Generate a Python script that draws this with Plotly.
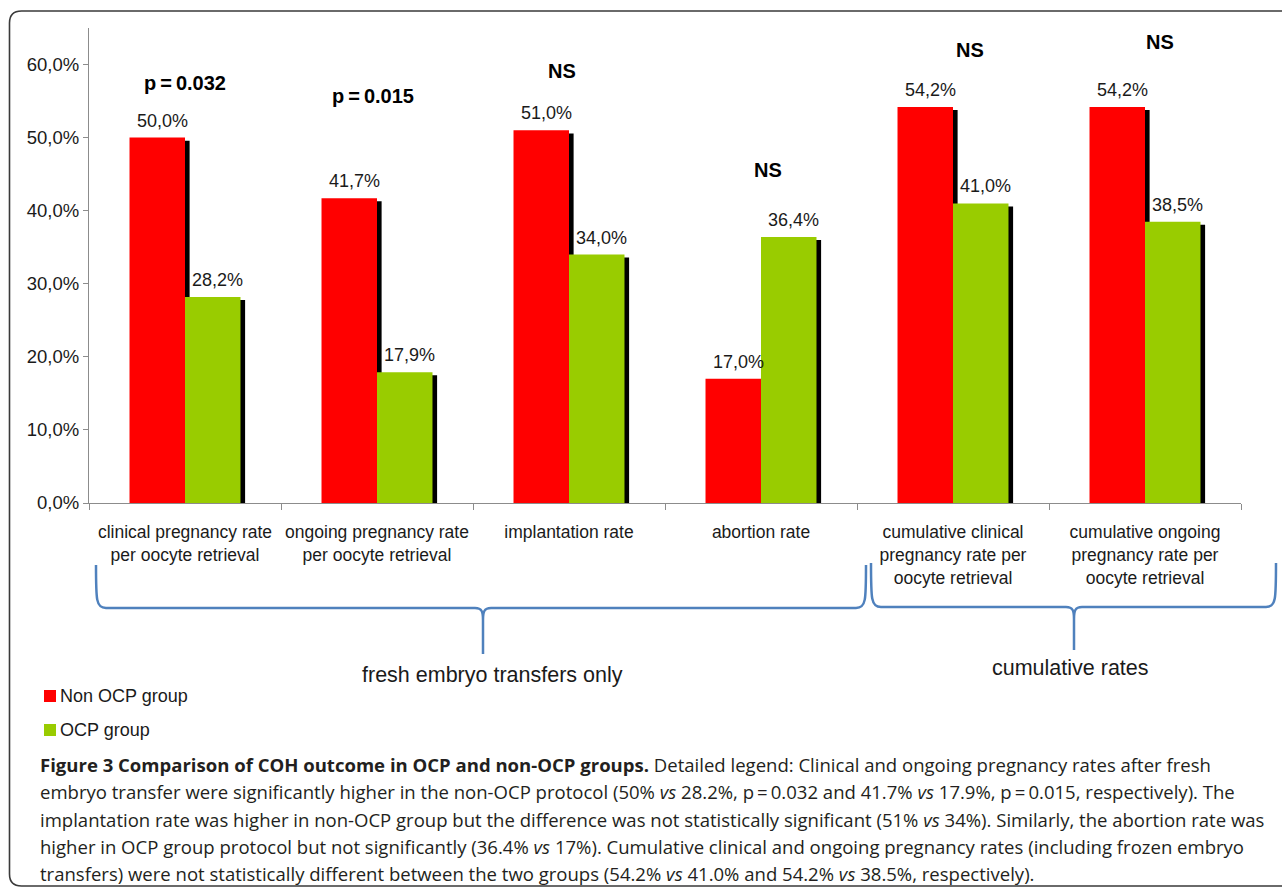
import plotly.graph_objects as go

# --- data -------------------------------------------------------------
categories = [
    "clinical pregnancy rate<br>per oocyte retrieval",
    "ongoing pregnancy rate<br>per oocyte retrieval",
    "implantation rate",
    "abortion rate",
    "cumulative clinical<br>pregnancy rate per<br>oocyte retrieval",
    "cumulative ongoing<br>pregnancy rate per<br>oocyte retrieval",
]
non_ocp = [50.0, 41.7, 51.0, 17.0, 54.2, 54.2]
ocp = [28.2, 17.9, 34.0, 36.4, 41.0, 38.5]
significance = ["p\u2009=\u20090.032", "p\u2009=\u20090.015", "NS", "NS", "NS", "NS"]
series_names = ["Non OCP group", "OCP group"]
y_ticks = [0, 10, 20, 30, 40, 50, 60]
y_tick_text = ["0,0%", "10,0%", "20,0%", "30,0%", "40,0%", "50,0%", "60,0%"]

caption_lines = [
    "<b>Figure 3 Comparison of COH outcome in OCP and non-OCP groups.</b> Detailed legend: Clinical and ongoing pregnancy rates after fresh",
    "embryo transfer were significantly higher in the non-OCP protocol (50% <i>vs</i> 28.2%, p\u2009=\u20090.032 and 41.7% <i>vs</i> 17.9%, p\u2009=\u20090.015, respectively). The",
    "implantation rate was higher in non-OCP group but the difference was not statistically significant (51% <i>vs</i> 34%). Similarly, the abortion rate was",
    "higher in OCP group protocol but not significantly (36.4% <i>vs</i> 17%). Cumulative clinical and ongoing pregnancy rates (including frozen embryo",
    "transfers) were not statistically different between the two groups (54.2% <i>vs</i> 41.0% and 54.2% <i>vs</i> 38.5%, respectively).",
]

# --- geometry ---------------------------------------------------------
W, H = 1282, 889
ML, MR, MT, MB = 89, 41, 28, 386
PW, PH = W - ML - MR, H - MT - MB
Y_MAX = 65.0

RED, GREEN = "#FF0000", "#99CC00"
TXT = "#1a1a1a"
AXIS = "#8c8c8c"
BRACE = "#4f81bd"
FONT = "Liberation Sans, Arial, sans-serif"

BAR_W = 0.289          # bar width in category units
SH_DX = 0.024          # shadow shift to the right (category units)
SH_DY = 0.42           # shadow shift downward (percent units)


def px(x):
    return (x - ML) / PW


def py(y):
    return (H - MB - y) / PH


def fmt(v):
    return f"{v:.1f}".replace(".", ",") + "%"


fig = go.Figure()

# drop shadows behind the bars
for vals, off in ((non_ocp, -BAR_W), (ocp, 0.0)):
    fig.add_trace(go.Bar(
        x=categories, y=vals, base=[-SH_DY] * len(vals),
        width=BAR_W, offset=off + SH_DX,
        marker=dict(color="black", line=dict(width=0)),
        showlegend=False, hoverinfo="skip",
    ))

fig.add_trace(go.Bar(
    x=categories, y=non_ocp, name=series_names[0],
    width=BAR_W, offset=-BAR_W,
    marker=dict(color=RED, line=dict(width=0)),
    showlegend=False,
))
fig.add_trace(go.Bar(
    x=categories, y=ocp, name=series_names[1],
    width=BAR_W, offset=0.0,
    marker=dict(color=GREEN, line=dict(width=0)),
    showlegend=False,
))

annotations = []

# value labels above the bars
for cat, r, g in zip(categories, non_ocp, ocp):
    for v, xs in ((r, -23), (g, 32)):
        annotations.append(dict(
            x=cat, y=v, xref="x", yref="y", text=fmt(v),
            showarrow=False, xshift=xs, yanchor="bottom", yshift=5,
            font=dict(family=FONT, size=18, color=TXT),
        ))

# significance markers
sig_pos = [(0, 57.5), (-4, 55.7), (-7, 59.1), (7, 45.6), (17, 62.0), (15, 63.1)]
for cat, s, (xs, yv) in zip(categories, significance, sig_pos):
    annotations.append(dict(
        x=cat, y=yv, xref="x", yref="y", text=f"<b>{s}</b>",
        showarrow=False, xshift=xs, yanchor="middle",
        font=dict(family=FONT, size=20, color="black"),
    ))

# group captions under the braces
for label, gx, gy in (("fresh embryo transfers only", 492, 675),
                      ("cumulative rates", 1070, 668)):
    annotations.append(dict(
        x=px(gx), y=py(gy), xref="paper", yref="paper",
        xanchor="center", yanchor="middle",
        text=label, showarrow=False,
        font=dict(family=FONT, size=21.5, color=TXT),
    ))

# legend (swatch + label)
legend_shapes = []
for name, color, ly in ((series_names[0], RED, 696), (series_names[1], GREEN, 730)):
    legend_shapes.append(dict(
        type="rect", xref="paper", yref="paper",
        x0=px(44), x1=px(56), y0=py(ly - 6), y1=py(ly + 6),
        fillcolor=color, line=dict(width=0),
    ))
    annotations.append(dict(
        x=px(58), y=py(ly), xref="paper", yref="paper",
        xanchor="left", yanchor="middle", text=name, showarrow=False,
        font=dict(family=FONT, size=18, color=TXT),
    ))

# figure caption
for i, line in enumerate(caption_lines):
    annotations.append(dict(
        x=px(38), y=py(764 + 27.5 * i), xref="paper", yref="paper",
        xanchor="left", yanchor="middle", align="left",
        text=line, showarrow=False,
        font=dict(family="Open Sans, sans-serif", size=18.55, color="#231f20"),
    ))


def brace(x0, x1, xc, ytop, ybar, ytip):
    """Curly brace opening upward, tip pointing down at xc."""
    r = 8
    pts = [
        f"M{px(x0)},{py(ytop)}",
        f"C{px(x0)},{py(ybar - r)} {px(x0)},{py(ybar)} {px(x0 + r + 2)},{py(ybar)}",
        f"L{px(xc - r)},{py(ybar)}",
        f"C{px(xc - 1)},{py(ybar)} {px(xc)},{py(ybar + 4)} {px(xc)},{py(ybar + r + 4)}",
        f"L{px(xc)},{py(ytip)}",
        f"M{px(xc)},{py(ybar + r + 4)}",
        f"C{px(xc)},{py(ybar + 4)} {px(xc + 1)},{py(ybar)} {px(xc + r)},{py(ybar)}",
        f"L{px(x1 - r - 2)},{py(ybar)}",
        f"C{px(x1)},{py(ybar)} {px(x1)},{py(ybar - r)} {px(x1)},{py(ytop)}",
    ]
    return dict(type="path", path=" ".join(pts), xref="paper", yref="paper",
                line=dict(color=BRACE, width=2.5), layer="above")


def rounded_frame(x0, y0, x1, y1, r):
    p = (
        f"M{px(x0)},{py(y0 + r)} "
        f"Q{px(x0)},{py(y0)} {px(x0 + r)},{py(y0)} "
        f"L{px(x1)},{py(y0)} "
        f"M{px(x0)},{py(y0 + r)} "
        f"L{px(x0)},{py(y1 - r)} "
        f"Q{px(x0)},{py(y1)} {px(x0 + r)},{py(y1)} "
        f"L{px(x1)},{py(y1)}"
    )
    return dict(type="path", path=p, xref="paper", yref="paper",
                line=dict(color="#3a3a3a", width=1.6))


shapes = [
    rounded_frame(9.5, 11, 1300, 886, 12),
    brace(96, 866, 483, 565, 608, 654),
    brace(871, 1276, 1074, 563, 607, 650),
] + legend_shapes

fig.update_layout(
    width=W, height=H,
    margin=dict(l=ML, r=MR, t=MT, b=MB, pad=0, autoexpand=False),
    paper_bgcolor="white", plot_bgcolor="white",
    barmode="overlay",
    font=dict(family=FONT, color=TXT),
    showlegend=False,
    xaxis=dict(
        type="category", tickson="boundaries",
        showline=True, linecolor=AXIS, linewidth=1.2,
        ticks="outside", ticklen=6, tickcolor=AXIS, tickwidth=1.2,
        tickfont=dict(family=FONT, size=17.5, color=TXT),
        tickangle=0, automargin=False,
        ticklabelstandoff=13,
        showgrid=False, zeroline=False, range=[-0.5, 5.5],
    ),
    yaxis=dict(
        range=[0, Y_MAX], tickvals=y_ticks, ticktext=y_tick_text,
        showline=True, linecolor=AXIS, linewidth=1.2,
        ticks="outside", ticklen=5, tickcolor=AXIS, tickwidth=1.2,
        tickfont=dict(family=FONT, size=18.5, color=TXT),
        automargin=False,
        showgrid=False, zeroline=False,
    ),
    annotations=annotations,
    shapes=shapes,
)

fig.write_html("out.html")
